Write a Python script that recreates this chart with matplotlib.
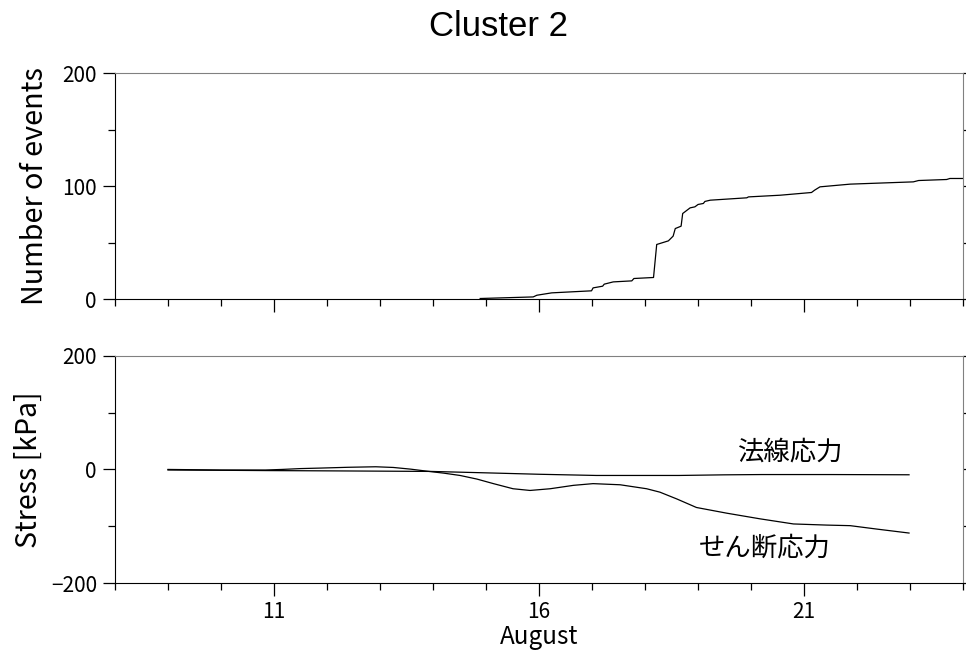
import matplotlib
matplotlib.use('Agg')
import matplotlib.pyplot as plt
from matplotlib.ticker import MultipleLocator

plt.rcParams['font.family'] = ['Noto Sans CJK JP', 'DejaVu Sans']

# cumulative number of events (day of August, count)
ev_day = [14.89, 15.89, 15.96, 16.24, 16.99, 17.02, 17.20, 17.23, 17.40, 17.75, 17.79,
          18.16, 18.22, 18.44, 18.53, 18.57, 18.68, 18.71, 18.85, 18.94, 19.00, 19.10,
          19.13, 19.23, 19.92, 19.95, 20.55, 21.14, 21.20, 21.30, 21.87, 23.06, 23.16,
          23.69, 23.75, 24.0]
ev_cnt = [0.6, 2, 3.5, 5.6, 7.4, 10, 11.5, 13.3, 15.3, 16.2, 18.3,
          19.2, 48.4, 51.6, 55.8, 62.5, 64.6, 75.8, 80.8, 81.7, 83.8, 84.7,
          86.5, 87.6, 89.7, 90.5, 92, 94.4, 96.5, 99.4, 101.8, 103.8, 105,
          105.9, 106.8, 106.8]

# normal stress [kPa]
ns_day = [9.0, 10.0, 10.84, 12.0, 13.0, 13.96, 15.0, 16.0, 17.08, 18.64, 19.5, 20.2, 21.5, 22.98]
ns_val = [-1, -1.5, -2, -2.5, -3, -3.5, -6, -8.5, -10.6, -10.6, -9.5, -9, -9, -9.4]

# shear stress [kPa]
ss_day = [9.0, 10.0, 10.84, 11.15, 11.5, 11.88, 12.4, 12.92, 13.25, 13.58, 13.88, 14.2,
          14.51, 14.83, 15.14, 15.51, 15.83, 16.21, 16.65, 17.02, 17.53, 18.03, 18.28,
          18.6, 18.97, 19.54, 20.17, 20.8, 21.43, 21.87, 22.37, 22.98]
ss_val = [0, -1, -1, 0, 1.5, 2.4, 3.8, 4.7, 3.5, 0.5, -3, -6.5,
          -10.6, -17, -25, -34, -37, -34, -28, -25, -27, -34, -40,
          -52, -67, -77, -87, -96, -98, -99, -105, -112]

fig = plt.figure(figsize=(9.66, 6.59), dpi=100)
ax1 = fig.add_axes([0.119, 0.546, 0.878, 0.343])
ax2 = fig.add_axes([0.119, 0.1153, 0.878, 0.3447])

ax1.plot(ev_day, ev_cnt, color='black', lw=0.9)
ax2.plot(ns_day, ns_val, color='black', lw=0.9)
ax2.plot(ss_day, ss_val, color='black', lw=0.9)

ax1.set_ylim(0, 200)
ax2.set_ylim(-200, 200)
for ax in (ax1, ax2):
    ax.set_xlim(8, 24)
    ax.xaxis.set_major_locator(MultipleLocator(5))
    ax.xaxis.set_minor_locator(MultipleLocator(1))
    ax.spines['top'].set_color('0.5')
    ax.spines['right'].set_color('0.5')
    ax.tick_params(axis='both', which='major', direction='out', length=9, width=0.9,
                   labelsize=15, pad=4)
    ax.tick_params(axis='both', which='minor', direction='out', length=5, width=0.9)
    ax.tick_params(axis='y', which='both', right=True, color='black')
ax1.set_xticks([11, 16, 21])
ax1.set_xticklabels([])
ax2.set_xticks([11, 16, 21])
ax1.set_yticks([0, 100, 200])
ax1.yaxis.set_minor_locator(MultipleLocator(50))
ax2.set_yticks([-200, 0, 200])
ax2.set_yticklabels(['\u2212200', '0', '200'])
ax2.yaxis.set_minor_locator(MultipleLocator(100))

ax1.set_ylabel('Number of events', fontsize=20.7, labelpad=9)
ax2.set_ylabel('Stress [kPa]', fontsize=20.5, labelpad=5)
ax2.set_xlabel('August', fontsize=17.5, labelpad=1)

ax2.text(20.74, 30, '法線応力', fontsize=19, ha='center', va='center')
ax2.text(20.26, -138, 'せん断応力', fontsize=19, ha='center', va='center')

fig.text(0.516, 0.96, 'Cluster 2', fontsize=25, ha='center', va='center',
         family=['Liberation Sans'])

fig.savefig('out.png', dpi=100)
